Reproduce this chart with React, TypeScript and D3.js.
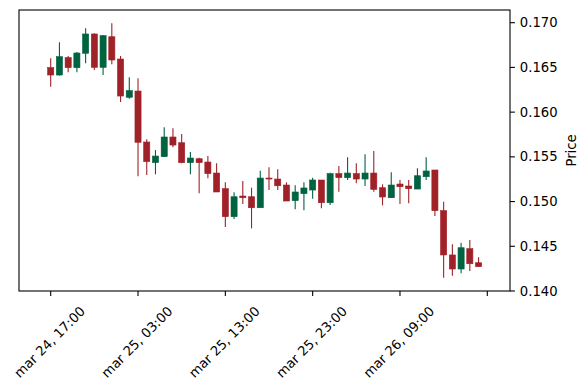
import { useMemo } from "react";
import * as d3 from "d3";

// hourly candles, mar 24 17:00 -> mar 26 18:00
const opens = [
  0.16497, 0.16415, 0.16609, 0.16497, 0.16658, 0.16874, 0.16501, 0.16843, 0.16594, 0.16166,
  0.16236, 0.15666, 0.15435, 0.15502, 0.15722, 0.15658, 0.15435, 0.15479, 0.15442, 0.15319,
  0.15144, 0.14831, 0.15062, 0.15054, 0.14931, 0.15263, 0.15252, 0.15185, 0.1501, 0.15088,
  0.15129, 0.15241, 0.14987, 0.15312, 0.15267, 0.15312, 0.15252, 0.15319, 0.15155, 0.15043,
  0.15196, 0.15174, 0.1514, 0.15278, 0.15353, 0.14898, 0.14403, 0.14246, 0.14473, 0.14316,
];
const highs = [
  0.16602, 0.16781, 0.16628, 0.16672, 0.16937, 0.16881, 0.16862, 0.16993, 0.16628, 0.16389,
  0.16378, 0.15696, 0.15577, 0.1583, 0.15819, 0.15755, 0.15554, 0.1549, 0.15509, 0.15428,
  0.15215, 0.15104, 0.1523, 0.15155, 0.15345, 0.15383, 0.15361, 0.15215, 0.15182, 0.15215,
  0.15267, 0.15241, 0.15323, 0.15398, 0.15495, 0.15428, 0.15528, 0.15565, 0.15193, 0.15327,
  0.15241, 0.15241, 0.15372, 0.15495, 0.15353, 0.14998, 0.14522, 0.1454, 0.1457, 0.14377,
];
const lows = [
  0.16284, 0.16407, 0.16445, 0.16445, 0.16546, 0.16471, 0.16415, 0.16535, 0.16113, 0.1615,
  0.15282, 0.15297, 0.15305, 0.15498, 0.15607, 0.15428, 0.15305, 0.15092, 0.1526, 0.15107,
  0.14716, 0.14805, 0.14973, 0.14701, 0.14931, 0.15129, 0.15129, 0.15006, 0.14913, 0.14902,
  0.15032, 0.14925, 0.14962, 0.1511, 0.15241, 0.15204, 0.15174, 0.1511, 0.14958, 0.15043,
  0.14973, 0.14981, 0.1514, 0.15241, 0.14839, 0.14149, 0.14171, 0.14198, 0.14224, 0.14272,
];
const closes = [
  0.16415, 0.1662, 0.16497, 0.16661, 0.16874, 0.16501, 0.16855, 0.16583, 0.1618, 0.1624,
  0.15663, 0.15446, 0.15509, 0.15722, 0.15632, 0.15435, 0.15487, 0.15435, 0.15312, 0.15107,
  0.14831, 0.15054, 0.15043, 0.14931, 0.15263, 0.15252, 0.15177, 0.15006, 0.15107, 0.15152,
  0.15241, 0.14987, 0.15312, 0.15267, 0.15319, 0.15252, 0.15319, 0.15137, 0.15051, 0.15185,
  0.15166, 0.15144, 0.15289, 0.15342, 0.14898, 0.14403, 0.14246, 0.14484, 0.14305, 0.14272,
];

const xTickIdx = [0, 10, 20, 30, 40, 50];
const xTickLabels = ["mar 24, 17:00", "mar 25, 03:00", "mar 25, 13:00", "mar 25, 23:00", "mar 26, 09:00", ""];
const yTicks = [0.14, 0.145, 0.15, 0.155, 0.16, 0.165, 0.17];

const UP = "#006340";
const DOWN = "#A02128";

export default function App() {
  const W = 588, H = 390;
  const left = 19, right = 510, top = 10, bottom = 291;
  const font = "DejaVu Sans, sans-serif";
  const fs = 13.2;

  const x = useMemo(() => d3.scaleLinear().domain([-3.63, 52.6]).range([left, right]), []);
  const y = useMemo(() => d3.scaleLinear().domain([0.14, 0.17142]).range([bottom, top]), []);
  const step = x(1) - x(0);
  const bw = step * 0.7;

  // rotated label geometry (matplotlib style: bbox centred on tick)
  const labW = 93.8, labH = 15.4;
  const R = (labW + labH) / Math.SQRT2;
  const labCy = bottom + 12.5 + R / 2;

  return (
    <svg width={W} height={H} style={{ position: "absolute", left: 0, top: 0, background: "#fff" }}>
      <rect x={0} y={0} width={W} height={H} fill="#fff" />
      {/* candles */}
      {opens.map((o, i) => {
        const c = closes[i];
        const col = c >= o ? UP : DOWN;
        const cx = x(i);
        const yTop = y(Math.max(o, c));
        const yBot = y(Math.min(o, c));
        return (
          <g key={i}>
            <line x1={cx} x2={cx} y1={y(highs[i])} y2={y(lows[i])} stroke={col} strokeWidth={1.1} />
            <rect
              x={cx - bw / 2}
              y={yTop}
              width={bw}
              height={Math.max(yBot - yTop, 0.8)}
              fill={col}
              stroke={col}
              strokeWidth={0.6}
            />
          </g>
        );
      })}
      {/* frame */}
      <rect x={left} y={top} width={right - left} height={bottom - top} fill="none" stroke="#000" strokeWidth={1.1} />
      {/* x ticks */}
      {xTickIdx.map((t, i) => (
        <g key={"xt" + i}>
          <line x1={x(t)} x2={x(t)} y1={bottom} y2={bottom + 4.9} stroke="#000" strokeWidth={1.1} />
          {xTickLabels[i] && (
            <text
              transform={`translate(${x(t) - 1},${labCy}) rotate(-45)`}
              textAnchor="middle"
              dominantBaseline="central"
              fontFamily={font}
              fontSize={fs}
              fill="#000"
            >
              {xTickLabels[i]}
            </text>
          )}
        </g>
      ))}
      {/* y ticks (right side) */}
      {yTicks.map((t) => (
        <g key={"yt" + t}>
          <line x1={right} x2={right + 4.9} y1={y(t)} y2={y(t)} stroke="#000" strokeWidth={1.1} />
          <text
            x={right + 9.8}
            y={y(t)}
            dominantBaseline="central"
            fontFamily={font}
            fontSize={fs}
            fill="#000"
          >
            {d3.format(".3f")(t)}
          </text>
        </g>
      ))}
      <text
        transform={`translate(${571},${(top + bottom) / 2}) rotate(-90)`}
        textAnchor="middle"
        dominantBaseline="central"
        fontFamily={font}
        fontSize={fs}
        fill="#000"
      >
        Price
      </text>
    </svg>
  );
}
